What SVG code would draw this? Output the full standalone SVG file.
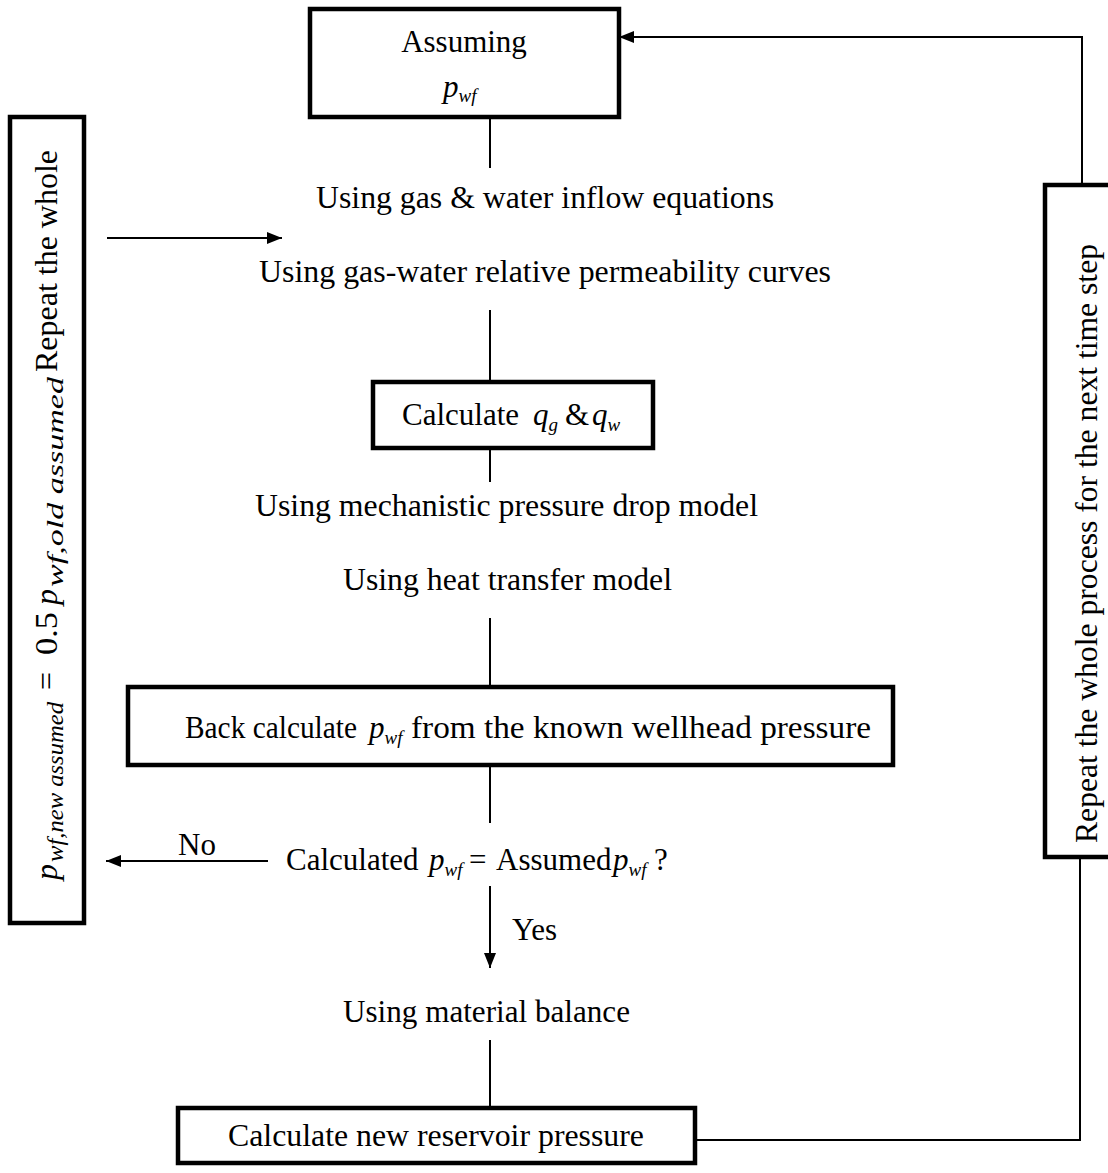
<svg xmlns="http://www.w3.org/2000/svg" width="1108" height="1173" viewBox="0 0 1108 1173">
<defs>
<style>
.box{fill:#fff;stroke:#000;stroke-width:4.5}
.ln{fill:none;stroke:#000;stroke-width:2}
.t{font-family:"Liberation Serif","Times New Roman",serif;font-size:31px;fill:#000}
.it{font-style:italic}
.sub{font-style:italic;font-size:19px}
.m{font-family:"Liberation Serif","Times New Roman",serif;font-size:32px;fill:#000}
.msub{font-style:italic;font-size:23px}
</style>
<marker id="ah" viewBox="0 0 15 12" refX="15" refY="6" markerWidth="15" markerHeight="12" markerUnits="userSpaceOnUse" orient="auto">
<path d="M0,0 L15,6 L0,12 Z" fill="#000"/>
</marker>
</defs>
<rect width="1108" height="1173" fill="#fff"/>

<g id="connectors">
<line class="ln" x1="490" y1="117" x2="490" y2="168"/>
<line class="ln" x1="490" y1="310" x2="490" y2="382"/>
<line class="ln" x1="490" y1="448" x2="490" y2="482"/>
<line class="ln" x1="490" y1="618" x2="490" y2="687"/>
<line class="ln" x1="490" y1="765" x2="490" y2="823"/>
<line class="ln" x1="490" y1="886" x2="490" y2="968" marker-end="url(#ah)"/>
<line class="ln" x1="490" y1="1040" x2="490" y2="1108"/>
<line class="ln" x1="268" y1="861" x2="106" y2="861" marker-end="url(#ah)"/>
<line class="ln" x1="107" y1="238" x2="282" y2="238" marker-end="url(#ah)"/>
<polyline class="ln" points="695,1140 1080,1140 1080,806" marker-end="url(#ah)"/>
<polyline class="ln" points="1082,185 1082,37 619,37" marker-end="url(#ah)"/>
</g>

<g id="n-assume">
<rect class="box" x="310" y="9" width="309" height="108"/>
<text class="t" x="464" y="52" text-anchor="middle">Assuming</text>
<text class="t it" x="443" y="97">p<tspan class="sub" dy="5">wf</tspan></text>
</g>

<g id="n-inflow">
<text class="t" x="316" y="208" textLength="458" lengthAdjust="spacingAndGlyphs">Using gas &amp; water inflow equations</text>
</g>
<g id="n-relperm">
<text class="t" x="259" y="282" textLength="572" lengthAdjust="spacingAndGlyphs">Using gas-water relative permeability curves</text>
</g>

<g id="n-calcq">
<rect class="box" x="373" y="382" width="280" height="66"/>
<text class="t" x="402" y="425">Calculate</text>
<text class="t" x="533" y="425"><tspan class="it">q</tspan><tspan class="sub" dy="6">g</tspan></text>
<text class="t" x="565" y="425">&amp;</text>
<text class="t" x="592" y="425"><tspan class="it">q</tspan><tspan class="sub" dy="6">w</tspan></text>
</g>

<g id="n-mech">
<text class="t" x="255" y="516" textLength="503" lengthAdjust="spacingAndGlyphs">Using mechanistic pressure drop model</text>
</g>
<g id="n-heat">
<text class="t" x="343" y="590" textLength="329" lengthAdjust="spacingAndGlyphs">Using heat transfer model</text>
</g>

<g id="n-back">
<rect class="box" x="128" y="687" width="765" height="78"/>
<text class="t" x="185" y="738" textLength="172" lengthAdjust="spacingAndGlyphs">Back calculate</text>
<text class="t" x="369" y="738"><tspan class="it">p</tspan><tspan class="sub" dy="6">wf</tspan></text>
<text class="t" x="411" y="738" textLength="460" lengthAdjust="spacingAndGlyphs">from the known wellhead pressure</text>
</g>

<g id="n-check">
<text class="t" x="286" y="870">Calculated</text>
<text class="t" x="429" y="870"><tspan class="it">p</tspan><tspan class="sub" dy="6">wf</tspan></text>
<text class="t" x="469" y="870">=</text>
<text class="t" x="496" y="870">Assumed</text>
<text class="t" x="613" y="870"><tspan class="it">p</tspan><tspan class="sub" dy="6">wf</tspan></text>
<text class="t" x="654" y="870">?</text>
<text class="t" x="178" y="855">No</text>
<text class="t" x="512" y="940">Yes</text>
</g>

<g id="n-mb">
<text class="t" x="343" y="1022" textLength="287" lengthAdjust="spacingAndGlyphs">Using material balance</text>
</g>

<g id="n-newp">
<rect class="box" x="178" y="1108" width="517" height="55"/>
<text class="t" x="228" y="1146" textLength="416" lengthAdjust="spacingAndGlyphs">Calculate new reservoir pressure</text>
</g>

<g id="n-repeat-step">
<rect class="box" x="1045" y="185" width="80" height="672"/>
<text class="t" transform="translate(1097,0) rotate(-90)" x="-843" textLength="599" lengthAdjust="spacingAndGlyphs">Repeat the whole process for the next time step</text>
</g>

<g id="n-repeat-whole">
<rect class="box" x="10" y="117" width="74" height="806"/>
<g transform="translate(57,0) rotate(-90)">
<text class="m it" x="-880" y="0">p</text>
<text class="m msub" x="-862" y="6" textLength="160" lengthAdjust="spacingAndGlyphs">wf,new assumed</text>
<text class="m" x="-690" y="0">=</text>
<text class="m" x="-655" y="0" textLength="43" lengthAdjust="spacingAndGlyphs">0.5</text>
<text class="m it" x="-605" y="0">p</text>
<text class="m msub" x="-587" y="6" textLength="210" lengthAdjust="spacingAndGlyphs">wf,old assumed</text>
<text class="t" x="-372" y="0" textLength="222" lengthAdjust="spacingAndGlyphs">Repeat the whole</text>
</g>
</g>
</svg>
